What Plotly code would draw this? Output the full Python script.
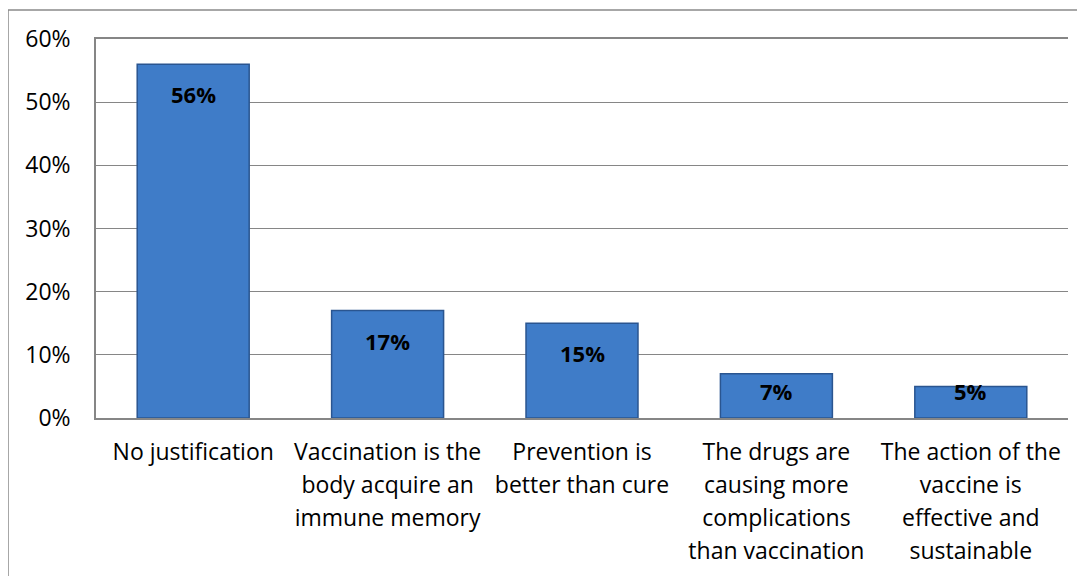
import plotly.graph_objects as go

categories = [
    "No justification",
    "Vaccination is the<br>body acquire an<br>immune memory",
    "Prevention is<br>better than cure",
    "The drugs are<br>causing more<br>complications<br>than vaccination",
    "The action of the<br>vaccine is<br>effective and<br>sustainable",
]
values = [56, 17, 15, 7, 5]
value_labels = ["56%", "17%", "15%", "7%", "5%"]
y_ticks = [0, 10, 20, 30, 40, 50, 60]
y_tick_labels = ["0%", "10%", "20%", "30%", "40%", "50%", "60%"]

FONT = "Open Sans"
LABEL_PX = 23

tick_text = ["<span style='font-size:%dpx'>%s</span>" % (LABEL_PX, c.replace("<br>", "</span><br><span style='font-size:%dpx'>" % LABEL_PX)) for c in categories]

fig = go.Figure()
fig.add_trace(go.Bar(
    x=list(range(len(categories))),
    y=values,
    width=0.576,
    marker=dict(color="#3f7cc8", line=dict(color="#2a5590", width=1.5)),
    hoverinfo="skip",
))

for i, (v, t) in enumerate(zip(values, value_labels)):
    fig.add_annotation(x=i, y=max(v - 4.75, 4.3), text="<b>%s</b>" % t,
                       showarrow=False, xref="x", yref="y", yanchor="middle",
                       font=dict(family=FONT, size=22, color="black"))

# page body has an 8px offset, margins compensate for it
fig.add_shape(type="rect", xref="paper", yref="paper",
              x0=-88 / 972, x1=1.1, y0=-0.6, y1=1 + 29 / 379,
              line=dict(color="#8a8a8a", width=1.5), fillcolor="rgba(0,0,0,0)")

fig.update_layout(
    width=1085, height=576,
    margin=dict(l=88, r=25, t=31, b=166, autoexpand=False),
    paper_bgcolor="white", plot_bgcolor="white",
    showlegend=False,
    font=dict(family=FONT, color="black"),
    xaxis=dict(
        tickmode="array", tickvals=list(range(len(categories))), ticktext=tick_text,
        range=[-0.5, 4.5], showgrid=False, showline=True, mirror=True, linecolor="#868686",
        linewidth=1.5, tickangle=0, tickfont=dict(family=FONT, size=25.4, color="black"),
        ticks="", ticklabelstandoff=10, fixedrange=True, automargin=False,
    ),
    yaxis=dict(
        tickmode="array", tickvals=y_ticks, ticktext=y_tick_labels,
        range=[0, 60], showgrid=True, gridcolor="#868686", gridwidth=1,
        showline=True, linecolor="#868686", linewidth=1.5, zeroline=False,
        tickfont=dict(family=FONT, size=23, color="black"),
        ticks="", ticklabelstandoff=19, automargin=False,
    ),
)

fig.write_html("out.html")
